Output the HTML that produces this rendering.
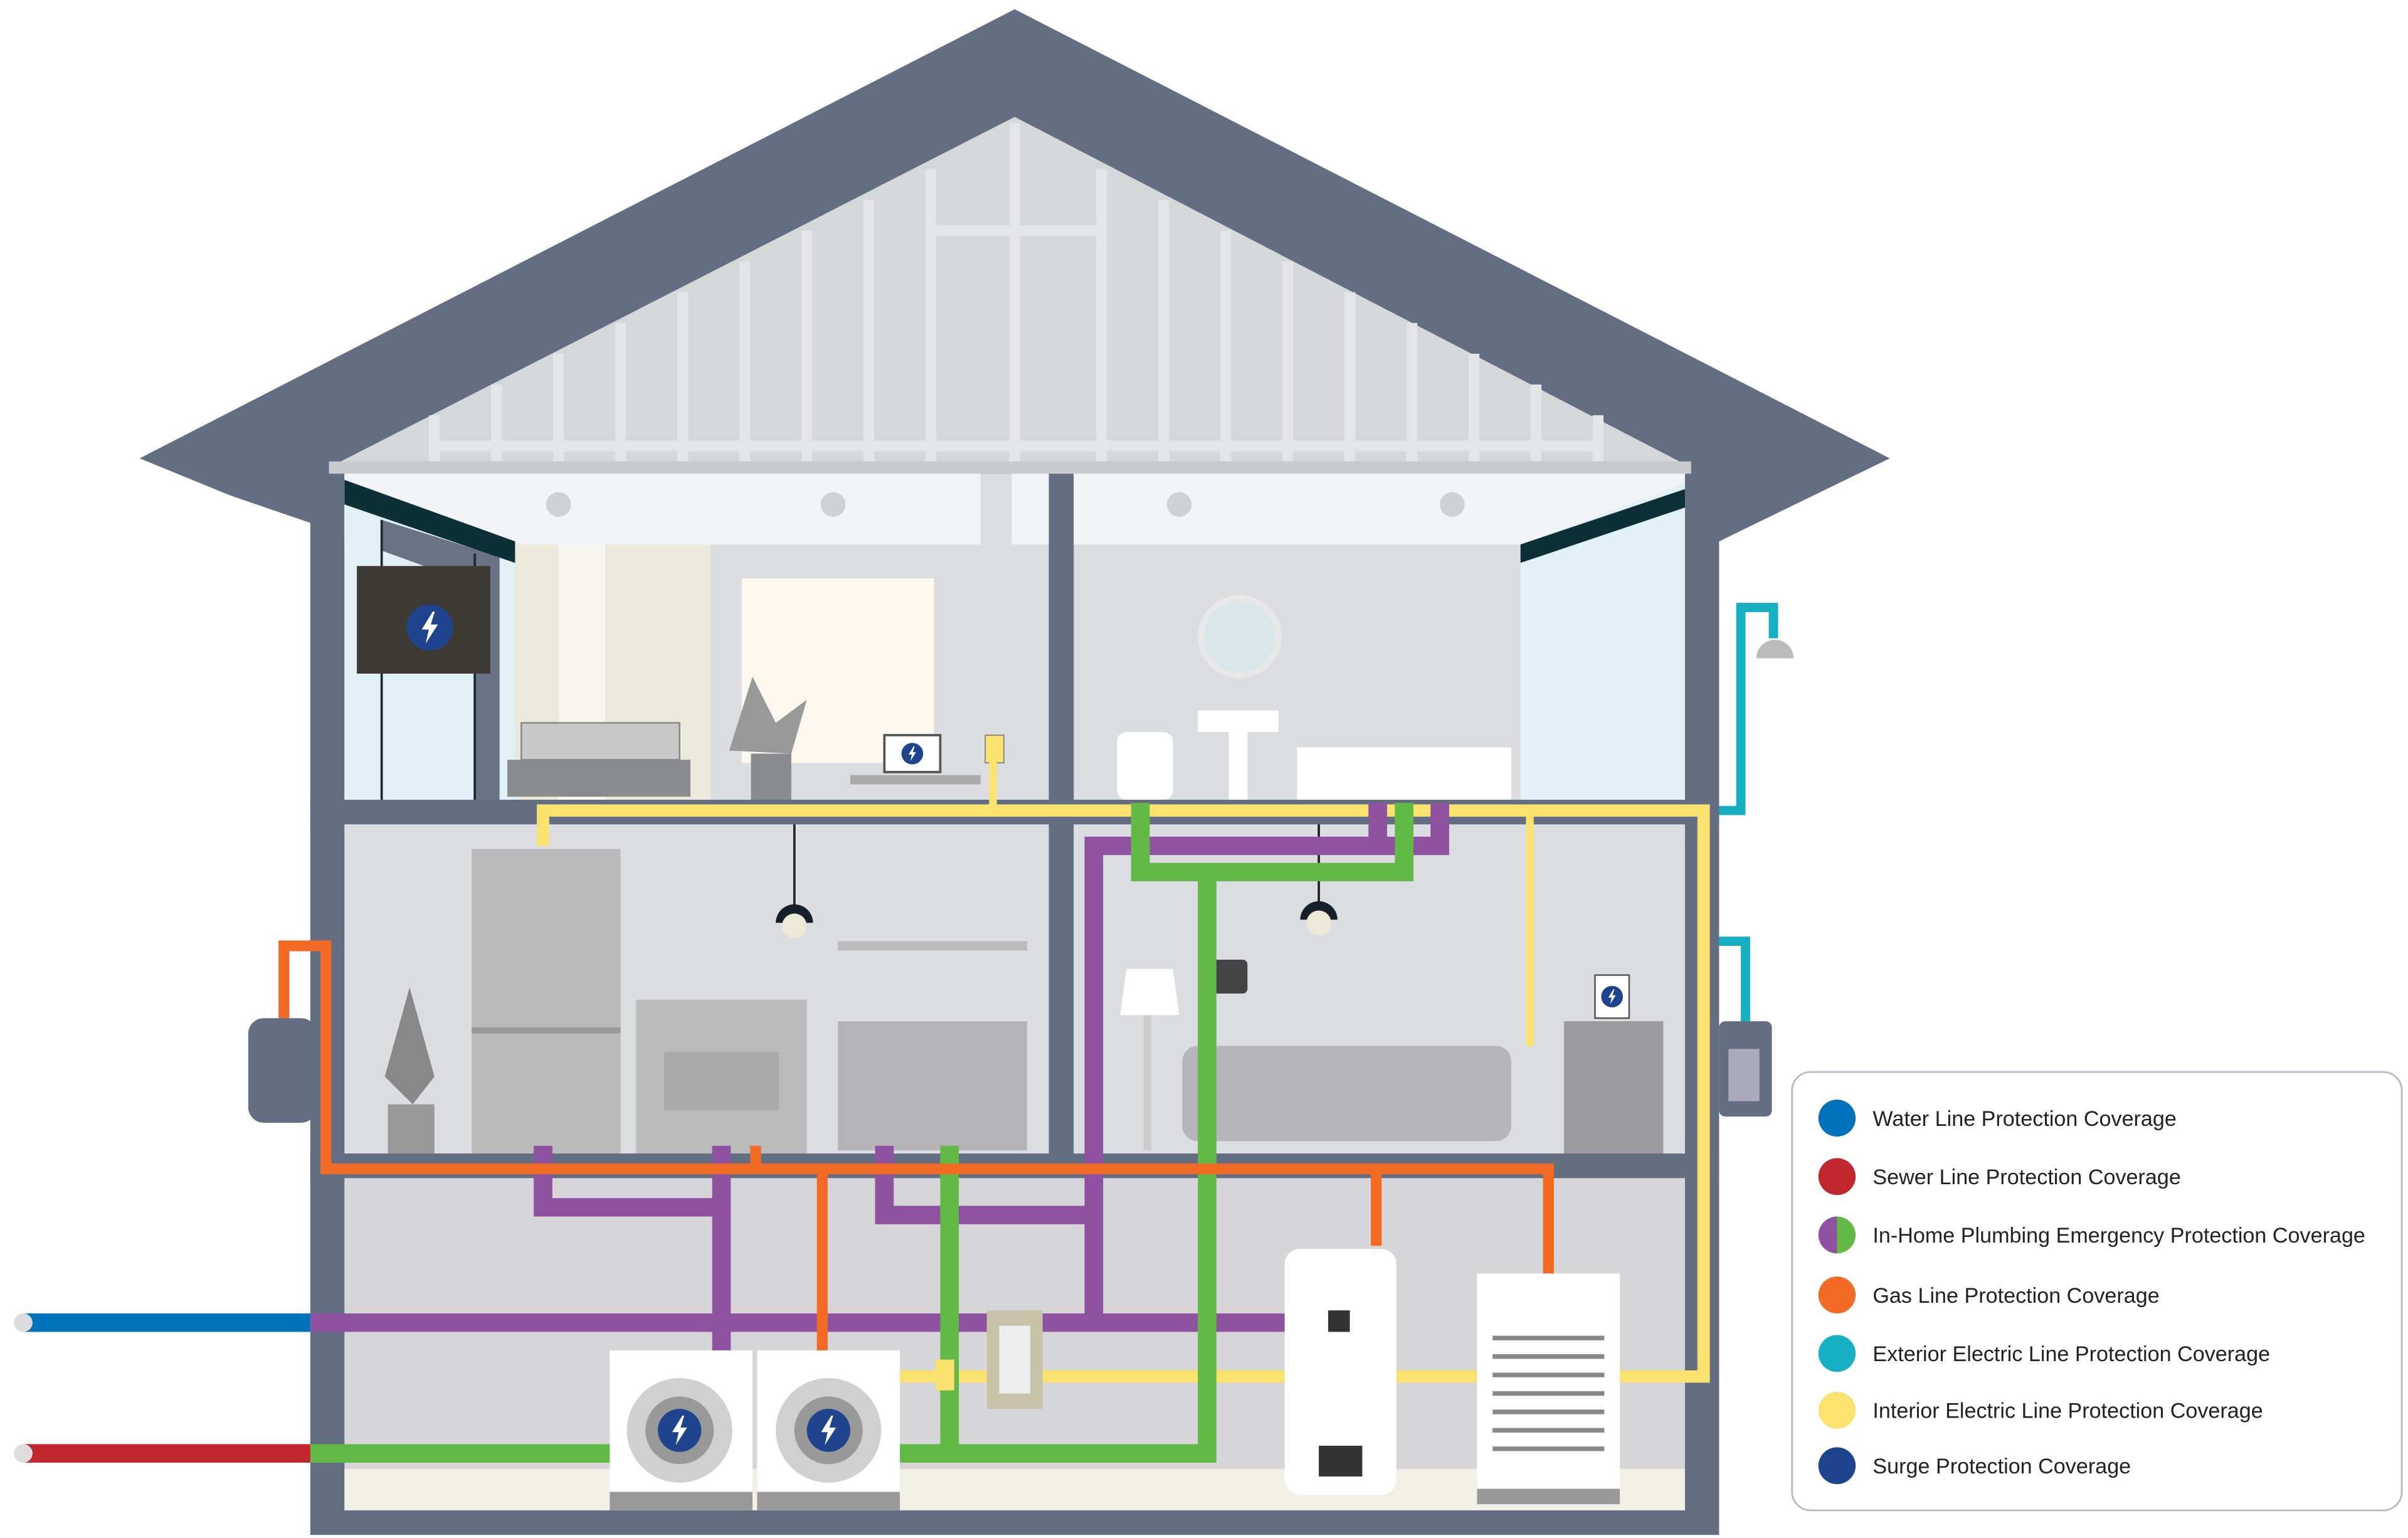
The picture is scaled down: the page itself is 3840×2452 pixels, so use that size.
<!DOCTYPE html>
<html><head><meta charset="utf-8"><style>
html,body{margin:0;padding:0;background:#fff}
svg{display:block}
text{font-family:"Liberation Sans",sans-serif}
</style></head><body>
<svg width="3840" height="2452" viewBox="0 0 1552 1000" preserveAspectRatio="none" xmlns="http://www.w3.org/2000/svg">
<defs>
<path id="bolt" d="M1.5 -8 L-4 1 L-0.5 1 L-2 8 L4 -1.5 L0.5 -1.5 L2.5 -8 Z" fill="#fff"/>
</defs>
<rect width="1552" height="1000" fill="#fff"/>
<!-- roof -->
<polygon points="90,298 654,6 1218,298 1108,352 1108,998 200,998 200,340 148,322" fill="#636e82"/>
<!-- attic -->
<polygon points="212,304 654,76 1090,304" fill="#d6d7d9"/>
<g stroke="#e4e5e7" stroke-width="7">
<line x1="654" y1="80" x2="654" y2="300"/>
<line x1="440" y1="190" x2="440" y2="300"/><line x1="480" y1="170" x2="480" y2="300"/>
<line x1="520" y1="150" x2="520" y2="300"/><line x1="560" y1="130" x2="560" y2="300"/>
<line x1="600" y1="110" x2="600" y2="300"/><line x1="400" y1="210" x2="400" y2="300"/>
<line x1="360" y1="230" x2="360" y2="300"/><line x1="320" y1="250" x2="320" y2="300"/>
<line x1="280" y1="270" x2="280" y2="300"/>
<line x1="710" y1="110" x2="710" y2="300"/><line x1="750" y1="130" x2="750" y2="300"/>
<line x1="790" y1="150" x2="790" y2="300"/><line x1="830" y1="170" x2="830" y2="300"/>
<line x1="870" y1="190" x2="870" y2="300"/><line x1="910" y1="210" x2="910" y2="300"/>
<line x1="950" y1="230" x2="950" y2="300"/><line x1="990" y1="250" x2="990" y2="300"/>
<line x1="1030" y1="270" x2="1030" y2="300"/>
<line x1="280" y1="290" x2="1030" y2="290"/>
<line x1="600" y1="150" x2="710" y2="150"/>
</g>
<rect x="212" y="300" width="878" height="8" fill="#c9cacd"/>
<!-- upper rooms -->
<rect x="222" y="308" width="454" height="212" fill="#dcdde0"/>
<rect x="692" y="308" width="394" height="212" fill="#dcdde0"/>
<rect x="222" y="308" width="410" height="46" fill="#f3f4f6"/>
<rect x="652" y="308" width="434" height="46" fill="#f3f4f6"/>
<rect x="676" y="308" width="16" height="442" fill="#636e82"/>
<g fill="#d0d1d4"><circle cx="360" cy="328" r="8"/><circle cx="537" cy="328" r="8"/><circle cx="760" cy="328" r="8"/><circle cx="936" cy="328" r="8"/></g>
<!-- left window -->
<polygon points="222,314 332,352 332,520 222,520" fill="#e1f1f6"/>
<polygon points="246,338 322,362 322,520 306,520 306,380 246,358" fill="#6a7286"/>
<line x1="246" y1="338" x2="246" y2="520" stroke="#1a2a33" stroke-width="1.5"/>
<line x1="306" y1="360" x2="306" y2="520" stroke="#1a2a33" stroke-width="1.5"/>
<polygon points="222,312 332,352 332,366 222,328" fill="#0d3038"/>
<rect x="332" y="354" width="126" height="166" fill="#eae9dc"/>
<rect x="360" y="354" width="30" height="166" fill="#f6f6ef"/>
<rect x="478" y="376" width="124" height="120" fill="#fdf8ed"/>
<rect x="230" y="368" width="86" height="70" fill="#3d3a33"/>
<circle cx="277" cy="408" r="15" fill="#1d448c"/>
<use href="#bolt" transform="translate(277,408) scale(1.3)"/>
<rect x="327" y="494" width="118" height="24" fill="#8a8b8e"/>
<rect x="336" y="470" width="102" height="24" fill="#c8c8c8" stroke="#888" stroke-width="1"/>
<polygon points="470,488 485,440 500,470 520,455 510,490" fill="#999"/>
<rect x="484" y="490" width="26" height="30" fill="#8a8b8e"/>
<rect x="548" y="504" width="84" height="6" fill="#aaa"/>
<rect x="570" y="478" width="36" height="24" fill="#fff" stroke="#555" stroke-width="1.5"/>
<circle cx="588" cy="490" r="7" fill="#1d448c"/>
<use href="#bolt" transform="translate(588,490) scale(0.6)"/>
<rect x="635" y="478" width="12" height="18" fill="#fbe26e" stroke="#888" stroke-width="0.8"/>
<!-- right upper window -->
<polygon points="980,354 1086,314 1086,520 980,520" fill="#e1f1f6"/>
<polygon points="980,354 1086,318 1086,330 980,366" fill="#0d3038"/>
<circle cx="799" cy="414" r="25" fill="#d7e7ea" stroke="#e8e8e8" stroke-width="4"/>
<rect x="720" y="476" width="36" height="44" rx="6" fill="#fff"/>
<rect x="772" y="462" width="52" height="14" fill="#fff"/>
<rect x="792" y="476" width="12" height="44" fill="#fff"/>
<rect x="836" y="486" width="138" height="34" fill="#fff"/>
<!-- slab -->
<rect x="200" y="520" width="908" height="16" fill="#636e82"/>
<!-- middle rooms -->
<rect x="222" y="536" width="454" height="214" fill="#dcdde0"/>
<rect x="692" y="536" width="394" height="214" fill="#dcdde0"/>
<rect x="304" y="552" width="96" height="198" fill="#bbbabb"/>
<rect x="304" y="668" width="96" height="4" fill="#999"/>
<polygon points="248,700 264,642 280,700 266,718" fill="#888"/>
<rect x="250" y="718" width="30" height="32" fill="#999"/>
<rect x="410" y="650" width="110" height="100" fill="#bbb"/>
<rect x="428" y="684" width="74" height="38" fill="#aaa"/>
<rect x="540" y="664" width="122" height="84" fill="#b4b4b6"/>
<rect x="540" y="612" width="122" height="6" fill="#bbb"/>
<line x1="512" y1="536" x2="512" y2="590" stroke="#222" stroke-width="1.5"/>
<path d="M500 600 a12 12 0 0 1 24 0z" fill="#16202a"/><circle cx="512" cy="602" r="8" fill="#ecead6"/>
<line x1="850" y1="536" x2="850" y2="588" stroke="#222" stroke-width="1.5"/>
<path d="M838 598 a12 12 0 0 1 24 0z" fill="#16202a"/><circle cx="850" cy="600" r="8" fill="#ecead6"/>
<polygon points="726,630 756,630 760,660 722,660" fill="#fff"/>
<rect x="737" y="660" width="5" height="88" fill="#ccc"/>
<rect x="762" y="680" width="212" height="62" rx="10" fill="#b6b6b8"/>
<rect x="1008" y="664" width="64" height="86" fill="#9c9c9e"/>
<rect x="1028" y="634" width="22" height="28" fill="#fff" stroke="#555"/>
<circle cx="1039" cy="648" r="7" fill="#1d448c"/>
<use href="#bolt" transform="translate(1039,648) scale(0.6)"/>
<rect x="782" y="624" width="22" height="22" rx="3" fill="#444"/>
<!-- slab -->
<rect x="200" y="750" width="908" height="16" fill="#636e82"/>
<!-- basement -->
<rect x="222" y="766" width="864" height="216" fill="#d6d6d8"/>
<rect x="222" y="955" width="864" height="27" fill="#f2efe6"/>
<!-- pipes -->
<g fill="none" stroke-linejoin="miter">
<path d="M350 550 V527 H1098 V895 H580" stroke="#fbe26e" stroke-width="8"/>
<path d="M640 495 V527 M986 527 V680" stroke="#fbe26e" stroke-width="5"/>
<path d="M200 860 H830 M465 745 V880 M350 745 V785 H465 M570 745 V790 H700 M705 860 V550 H928 V522 M888 522 V550" stroke="#8e52a1" stroke-width="12"/>
<path d="M200 945 H395 M580 945 H778 V570 M735 522 V567 H905 V522 M612 745 V945" stroke="#62b946" stroke-width="12"/>
<path d="M183 665 V615 H210 V760 H998 V830 M887 760 V810 M530 760 V880 M487 745 V760" stroke="#f26a24" stroke-width="7"/>
<path d="M1108 527 H1122 V395 H1143 V415 M1108 612 H1125 V665" stroke="#16b0c2" stroke-width="6"/>
<path d="M15 860 H200" stroke="#0072bc" stroke-width="12"/>
<path d="M15 945 H200" stroke="#c1272d" stroke-width="12"/>
</g>
<circle cx="15" cy="860" r="6" fill="#ddd"/><circle cx="15" cy="945" r="6" fill="#ddd"/>
<path d="M1132 428 a12 12 0 0 1 24 0z" fill="#bbb"/>
<rect x="160" y="662" width="44" height="68" rx="10" fill="#636e82"/>
<rect x="1108" y="664" width="34" height="62" rx="4" fill="#636e82"/>
<rect x="1114" y="682" width="20" height="34" fill="#aab"/>
<!-- basement appliances -->
<rect x="393" y="878" width="92" height="104" fill="#fff"/><rect x="393" y="970" width="92" height="12" fill="#999"/>
<circle cx="438" cy="930" r="34" fill="#d0d0d0"/><circle cx="438" cy="930" r="22" fill="#999"/><circle cx="438" cy="930" r="14" fill="#1d448c"/>
<use href="#bolt" transform="translate(438,930) scale(1.2)"/>
<rect x="488" y="878" width="92" height="104" fill="#fff"/><rect x="488" y="970" width="92" height="12" fill="#999"/>
<circle cx="534" cy="930" r="34" fill="#d0d0d0"/><circle cx="534" cy="930" r="22" fill="#999"/><circle cx="534" cy="930" r="14" fill="#1d448c"/>
<use href="#bolt" transform="translate(534,930) scale(1.2)"/>
<rect x="603" y="884" width="12" height="20" fill="#fbe26e"/>
<rect x="636" y="852" width="36" height="64" fill="#c8c2a8"/><rect x="644" y="862" width="20" height="44" fill="#eee"/>
<rect x="828" y="812" width="72" height="160" rx="10" fill="#fff"/>
<rect x="850" y="940" width="28" height="20" fill="#333"/>
<rect x="856" y="852" width="14" height="14" fill="#333"/>
<rect x="952" y="828" width="92" height="150" fill="#fff"/>
<g stroke="#888" stroke-width="3"><line x1="962" y1="870" x2="1034" y2="870"/><line x1="962" y1="882" x2="1034" y2="882"/><line x1="962" y1="894" x2="1034" y2="894"/><line x1="962" y1="906" x2="1034" y2="906"/><line x1="962" y1="918" x2="1034" y2="918"/><line x1="962" y1="930" x2="1034" y2="930"/><line x1="962" y1="942" x2="1034" y2="942"/></g>
<rect x="952" y="968" width="92" height="10" fill="#999"/>
<!-- legend -->
<rect x="1155" y="697" width="393" height="285" rx="12" fill="#fff" stroke="#b9bcc4" stroke-width="1.2"/>
<g font-size="13.8" fill="#222">
<circle cx="1184" cy="727" r="12" fill="#0072bc"/><text x="1207" y="732">Water Line Protection Coverage</text>
<circle cx="1184" cy="765" r="12" fill="#c1272d"/><text x="1207" y="770">Sewer Line Protection Coverage</text>
<path d="M1184 791 a12 12 0 0 0 0 24z" fill="#8e52a1"/><path d="M1184 791 a12 12 0 0 1 0 24z" fill="#62b946"/><text x="1207" y="808">In-Home Plumbing Emergency Protection Coverage</text>
<circle cx="1184" cy="842" r="12" fill="#f26a24"/><text x="1207" y="847">Gas Line Protection Coverage</text>
<circle cx="1184" cy="880" r="12" fill="#16b0c2"/><text x="1207" y="885">Exterior Electric Line Protection Coverage</text>
<circle cx="1184" cy="917" r="12" fill="#fbe26e"/><text x="1207" y="922">Interior Electric Line Protection Coverage</text>
<circle cx="1184" cy="953" r="12" fill="#1d448c"/><text x="1207" y="958">Surge Protection Coverage</text>
</g>
</svg>
</body></html>
